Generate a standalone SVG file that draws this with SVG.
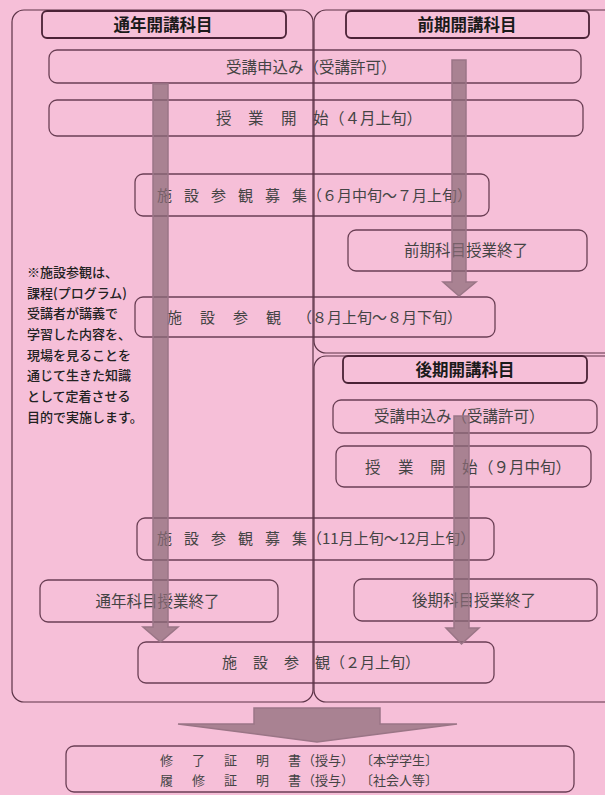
<svg xmlns="http://www.w3.org/2000/svg" width="605" height="795" viewBox="0 0 605 795">
<style>
text{font-family:"Noto Sans CJK JP","Noto Sans CJK SC",sans-serif}
.box{fill:none;stroke:#6b3f55;stroke-width:1.3}
.hdr{fill:none;stroke:#4a2236;stroke-width:1.8}
.cont{fill:none;stroke:#5c3347;stroke-width:1.2}
.t{font-size:15.5px;fill:#444}
.ts{font-size:15px;fill:#444}
.tc{font-size:13px;fill:#444}
.h{font-size:16.5px;font-weight:bold;fill:#1a1a1a;text-anchor:middle}
.note{font-size:13px;fill:#222;font-weight:500}
.arr{fill:#8b6b77;fill-opacity:0.72;stroke:#9a7586;stroke-width:1.5}
</style>
<rect x="0" y="0" width="605" height="795" fill="#F6BFD8"/>

<g id="box-apply1">
<rect class="box" x="49" y="50" width="532" height="33" rx="8"/>
<text class="t" x="226" y="73">受講申込み（受講許可）</text>
</g>
<g id="box-start1">
<rect class="box" x="49" y="100" width="534" height="36" rx="8"/>
<text class="t" y="124"><tspan x="216 248 281 313">授業開始</tspan><tspan x="329">（４月上旬）</tspan></text>
</g>
<g id="box-recruit1">
<rect class="box" x="135" y="174" width="354" height="42" rx="8"/>
<text class="ts" y="201"><tspan x="157 184 211 238 265 292">施設参観募集</tspan><tspan x="307">（６月中旬〜７月上旬）</tspan></text>
</g>
<g id="box-end-zenki">
<rect class="box" x="348" y="230" width="239" height="41" rx="8"/>
<text class="t" x="466" y="256" text-anchor="middle">前期科目授業終了</text>
</g>
<g id="box-visit1">
<rect class="box" x="135" y="297" width="360" height="40" rx="8"/>
<text class="ts" y="323"><tspan x="167 200 233 266">施設参観</tspan><tspan x="297">（８月上旬〜８月下旬）</tspan></text>
</g>
<g id="box-apply2">
<rect class="box" x="333" y="400" width="264" height="33" rx="8"/>
<text class="t" x="374" y="422">受講申込み（受講許可）</text>
</g>
<g id="box-start2">
<rect class="box" x="336" y="446" width="255" height="41" rx="8"/>
<text class="t" y="473"><tspan x="365 398 430 462">授業開始</tspan><tspan x="478">（９月中旬）</tspan></text>
</g>
<g id="box-recruit2">
<rect class="box" x="137" y="518" width="357" height="42" rx="8"/>
<text class="ts" y="544"><tspan x="157 184 211 238 265 292">施設参観募集</tspan><tspan x="307">（11月上旬〜12月上旬）</tspan></text>
</g>
<g id="box-end-tsunen">
<rect class="box" x="40" y="580" width="238" height="42" rx="8"/>
<text class="t" x="157.5" y="607" text-anchor="middle">通年科目授業終了</text>
</g>
<g id="box-end-kouki">
<rect class="box" x="354" y="579" width="243" height="42" rx="8"/>
<text class="t" x="474" y="606" text-anchor="middle">後期科目授業終了</text>
</g>
<g id="box-visit2">
<rect class="box" x="138" y="642" width="356" height="41" rx="8"/>
<text class="ts" y="668"><tspan x="222 253 284 315">施設参観</tspan><tspan x="330">（２月上旬）</tspan></text>
</g>
<g id="box-certificate">
<rect class="box" x="66" y="746" width="508" height="46" rx="8"/>
<text class="tc" y="765"><tspan x="160 192 224 256 288">修了証明書</tspan><tspan x="302">（授与）</tspan><tspan x="360">〔本学学生〕</tspan></text>
<text class="tc" y="785"><tspan x="160 192 224 256 288">履修証明書</tspan><tspan x="302">（授与）</tspan><tspan x="360">〔社会人等〕</tspan></text>
</g>

<g id="note">
<text class="note" x="27">
<tspan x="27" y="277">※施設参観は、</tspan>
<tspan x="27" y="298">課程(プログラム)</tspan>
<tspan x="27" y="318">受講者が講義で</tspan>
<tspan x="27" y="339">学習した内容を、</tspan>
<tspan x="27" y="360">現場を見ることを</tspan>
<tspan x="27" y="380">通じて生きた知識</tspan>
<tspan x="27" y="401">として定着させる</tspan>
<tspan x="27" y="422">目的で実施します。</tspan>
</text>
</g>

<g id="containers">
<g id="group-tsunen">
<rect class="cont" x="12" y="10" width="301" height="692" rx="12"/>
<rect class="hdr" x="42" y="11" width="244" height="27" rx="5"/>
<text class="h" x="163" y="31">通年開講科目</text>
</g>
<g id="group-zenki">
<rect class="cont" x="314" y="10" width="320" height="343" rx="12"/>
<rect class="hdr" x="346" y="11" width="243" height="27" rx="5"/>
<text class="h" x="467" y="31">前期開講科目</text>
</g>
<g id="group-kouki">
<rect class="cont" x="314" y="356" width="320" height="346" rx="12"/>
<rect class="hdr" x="343" y="356" width="244" height="27" rx="5"/>
<text class="h" x="465" y="376">後期開講科目</text>
</g>
</g>

<g id="connectors">
<path class="arr" d="M153,84 H168 V627 H178 L160.5,642 L143,627 H153 Z"/>
<path class="arr" d="M452,60 H466 V282 H476 L459,296 L443,282 H452 Z"/>
<path class="arr" d="M454,416 H469 V628 H479 L461.5,644 L446,628 H454 Z"/>
<path class="arr" d="M254,708 H380 V724 H457 L317,742 L178,724 H254 Z"/>
</g>
</svg>
